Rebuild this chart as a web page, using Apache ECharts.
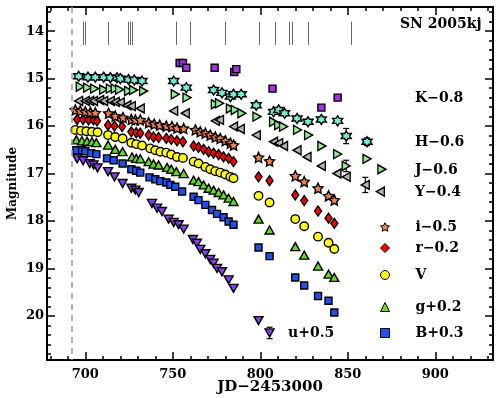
<!DOCTYPE html>
<html>
<head>
<meta charset="utf-8">
<script src="https://cdn.jsdelivr.net/npm/echarts@6/dist/echarts.min.js"></script>
<style>
  html, body { margin: 0; padding: 0; background: #fff; }
  #chart { width: 498px; height: 398px; }
</style>
</head>
<body>
<div id="chart"></div>
<script>
// Light curves of SN 2005kj, [JD-2453000, magnitude], offsets already applied
var uMag = [
  [695.3,16.69],[698.7,16.73],[702.5,16.79],[704.7,16.82],[707.0,16.88],
  [713.0,16.96],[716.7,17.07],[721.3,17.21],[726.3,17.31],[728.6,17.35],[730.5,17.40],
  [738.1,17.63],[741.0,17.73],[743.8,17.80],[747.6,17.96],[750.5,18.03],[753.3,18.08],[756.2,18.17],
  [761.5,18.39],[763.8,18.47],[765.7,18.60],[768.6,18.69],[771.4,18.81],[773.3,18.89],[775.3,19.00],
  [778.1,19.07],[781.9,19.24],[784.7,19.42],
  [799.0,20.10],[805.3,20.36]
];
var bMag = [
  [694.9,16.51],[698.1,16.51],[700.0,16.53],[703.3,16.57],[706.3,16.59],
  [712.4,16.68],[716.2,16.72],[721.3,16.79],[726.3,16.91],[729.1,16.94],[731.4,16.98],
  [736.7,17.08],[740.0,17.12],[742.9,17.16],[746.3,17.19],[748.6,17.24],[751.4,17.28],[755.3,17.38],
  [761.9,17.49],[764.7,17.56],[768.6,17.66],[772.4,17.77],[775.3,17.85],[779.0,17.92],[781.9,18.01],[784.7,18.08],
  [799.0,18.56],[805.3,18.74],[820.0,19.19],[825.1,19.36],[833.0,19.58],[839.0,19.68],[842.3,19.93]
];
var gMag = [
  [694.9,16.29],[698.1,16.31],[701.0,16.32],[703.8,16.33],[706.3,16.35],
  [713.0,16.40],[717.1,16.49],[721.3,16.54],[726.7,16.65],[729.1,16.68],[731.4,16.69],
  [736.2,16.75],[739.0,16.80],[741.9,16.82],[746.7,16.87],[749.1,16.91],[752.0,16.96],[756.2,17.00],
  [761.9,17.14],[764.7,17.17],[767.6,17.24],[770.5,17.31],[773.3,17.35],[776.2,17.40],[779.0,17.45],[781.9,17.52],[784.7,17.59],
  [799.0,17.96],[805.3,18.19],[820.0,18.54],[825.1,18.72],[833.0,18.95],[839.0,19.12],[842.3,19.19]
];
var vMag = [
  [694.3,16.08],[697.5,16.10],[700.6,16.11],[703.8,16.12],[707.0,16.13],
  [713.0,16.19],[717.1,16.23],[721.3,16.26],[726.3,16.35],[729.1,16.38],[732.4,16.41],
  [737.1,16.47],[740.0,16.51],[742.9,16.54],[746.3,16.56],[749.1,16.60],[752.4,16.65],[755.8,16.67],
  [761.9,16.75],[764.7,16.79],[768.6,16.86],[771.4,16.91],[774.3,16.95],[777.1,16.98],[780.0,17.02],[782.9,17.07],[784.7,17.10],
  [799.0,17.47],[805.3,17.61],[820.0,17.96],[825.1,18.11],[833.0,18.33],[839.0,18.46],[842.3,18.59]
];
var rMag = [
  [695.3,15.86],[698.7,15.86],[701.9,15.87],[704.7,15.87],[706.7,15.89],
  [713.0,15.98],[716.7,16.00],[721.0,16.01],[726.3,16.12],[729.1,16.14],[731.4,16.15],
  [736.2,16.19],[739.0,16.23],[741.9,16.24],[746.3,16.26],[749.1,16.28],[752.4,16.31],[755.8,16.33],
  [761.9,16.42],[764.7,16.45],[767.6,16.49],[770.5,16.54],[773.3,16.57],[776.2,16.60],[779.0,16.65],[781.9,16.68],[784.7,16.75],
  [799.0,17.07],[805.3,17.15],[820.0,17.45],[825.1,17.57],[833.0,17.79],[839.0,17.94],[842.3,18.05]
];
var iMag = [
  [694.3,15.66],[697.1,15.68],[700.0,15.70],[702.9,15.71],[705.7,15.72],
  [713.3,15.73],[717.1,15.79],[721.5,15.82],[726.3,15.86],[728.6,15.87],[731.4,15.87],
  [736.2,15.93],[739.4,15.96],[742.5,15.98],[746.3,16.00],[749.5,16.01],[752.4,16.04],[756.2,16.05],
  [762.9,16.08],[765.7,16.12],[768.6,16.15],[771.4,16.19],[774.3,16.23],[777.1,16.26],[780.0,16.31],[782.9,16.36],[784.7,16.40],
  [799.0,16.66],[805.3,16.74],[820.0,17.05],[825.1,17.17],[833.0,17.31],[839.0,17.47],[842.3,17.56]
];
var yMag = [
  [696.2,15.47],[700.0,15.47],[702.5,15.47],[704.7,15.47],[708.2,15.45],[710.5,15.47],[714.3,15.47],
  [717.1,15.49],[720.0,15.50],[723.8,15.56],[726.3,15.58],[731.4,15.63],
  [750.5,15.68],[757.1,15.73],[774.3,15.89],[776.7,15.87],[784.7,16.01],[788.6,16.06],
  [797.7,16.19],[807.6,16.33],[810.5,16.36],[813.3,16.42],[821.0,16.51],[826.7,16.65],[834.9,16.84],
  [843.8,17.00],[849.1,17.07],[860.0,17.24],[868.6,17.38]
];
var jMag = [
  [697.1,15.17],[701.3,15.19],[705.3,15.21],[710.5,15.23],[714.3,15.21],[717.1,15.21],[719.6,15.23],
  [724.7,15.26],[727.6,15.24],[733.3,15.26],
  [751.4,15.33],[758.1,15.40],[774.3,15.54],[776.7,15.52],[782.9,15.63],[785.7,15.66],[789.5,15.73],
  [798.1,15.80],[807.6,15.91],[810.5,15.98],[813.3,16.01],[821.3,16.08],[827.6,16.19],[835.2,16.42],
  [844.2,16.59],[849.1,16.84],[861.0,16.69],[869.5,16.91]
];
var hMag = [
  [696.2,14.95],[701.5,14.97],[705.7,14.97],[710.5,14.97],[714.3,14.98],[718.1,14.98],[720.0,15.00],
  [724.7,15.02],[728.0,15.03],[732.4,15.05],
  [750.5,15.05],[757.7,15.19],[773.3,15.24],[778.1,15.30],[782.9,15.38],[784.7,15.33],[789.1,15.33],
  [797.7,15.56],[807.6,15.70],[810.5,15.66],[813.9,15.73],[821.0,15.84],[827.3,15.91],[834.9,15.86],
  [844.2,15.89],[849.1,16.21],[861.0,16.33]
];
var kMag = [
  [753.9,14.67],[755.8,14.67],[757.7,14.77],[773.9,14.77],[785.1,14.86],[786.3,14.80],
  [807.0,15.21],[834.9,15.61],[844.2,15.40]
];

// error bars [JD, mag, sigma]
var errPoints = [
  [805.3,20.36,0.12],
  [849.1,16.21,0.16],[861.0,16.33,0.08],
  [849.1,16.84,0.12],
  [860.0,17.24,0.16]
];

// spectroscopic epochs (ticks along the top) and the dashed reference epoch
var spectraEpochs = [698.7,699.7,713.0,724.7,725.7,727.0,751.8,760.0,780.0,799.3,808.4,816.6,818.1,827.4,852.0];
var refEpoch = 692.1;

var xMajor = [700, 750, 800, 850, 900];
var yMajor = [14, 15, 16, 17, 18, 19, 20];

var X_MIN = 678.1, X_MAX = 933.0;
var Y_MIN = 13.49, Y_MAX = 20.93;
var FONT = '"DejaVu Serif", serif';

var xMinor = [];
for (var v = 680; v <= 930; v += 10) if (v % 50) xMinor.push(v);
var yMinor = [];
for (var k = 68; k <= 104; k++) if (k % 5) yMinor.push(k / 5);

var STAR5 = 'path://M0,-10L2.94,-4.05L9.51,-3.09L4.76,1.55L5.88,8.09L0,5L-5.88,8.09L-4.76,1.55L-9.51,-3.09L-2.94,-4.05Z';
var STAR6 = 'path://M0,-10L2.89,-5L8.66,-5L5.77,0L8.66,5L2.89,5L0,10L-2.89,5L-8.66,5L-5.77,0L-8.66,-5L-2.89,-5Z';

function band(name, data, symbol, size, rotate, color) {
  return {
    name: name,
    type: 'scatter',
    data: data,
    symbol: symbol,
    symbolSize: size,
    symbolRotate: rotate,
    itemStyle: { color: color, borderColor: '#000', borderWidth: 1.4, opacity: 1 },
    emphasis: { disabled: true },
    z: 3
  };
}

function xAxis(pos, ticks, len, main) {
  return {
    type: 'value', min: X_MIN, max: X_MAX, position: pos,
    axisLine: { show: main, onZero: false, lineStyle: { color: '#000', width: 2 } },
    axisTick: { show: true, inside: true, length: len, customValues: ticks,
      lineStyle: { color: '#000', width: 1.5 } },
    axisLabel: { show: main && pos === 'bottom', customValues: ticks, margin: 8,
      fontFamily: FONT, fontWeight: 'bold', fontSize: 13, color: '#000' },
    splitLine: { show: false }
  };
}

function yAxis(pos, ticks, len, main) {
  return {
    type: 'value', min: Y_MIN, max: Y_MAX, inverse: true, position: pos,
    axisLine: { show: main, onZero: false, lineStyle: { color: '#000', width: 2 } },
    axisTick: { show: true, inside: true, length: len, customValues: ticks,
      lineStyle: { color: '#000', width: 1.5 } },
    axisLabel: { show: main && pos === 'left', customValues: ticks, margin: 3,
      fontFamily: FONT, fontWeight: 'bold', fontSize: 13, color: '#000' },
    splitLine: { show: false }
  };
}

var xAxes = [xAxis('bottom', xMajor, 8, true), xAxis('bottom', xMinor, 4, false),
             xAxis('top', xMajor, 8, true), xAxis('top', xMinor, 4, false)];
xAxes[0].name = 'JD\u22122453000';
xAxes[0].nameLocation = 'middle';
xAxes[0].nameGap = 20;
xAxes[0].nameMoveOverlap = false;
xAxes[0].nameTextStyle = { fontFamily: FONT, fontWeight: 'bold', fontSize: 15, color: '#000' };

var yAxes = [yAxis('left', yMajor, 8, true), yAxis('left', yMinor, 4, false),
             yAxis('right', yMajor, 8, true), yAxis('right', yMinor, 4, false)];
yAxes[0].name = 'Magnitude';
yAxes[0].nameLocation = 'middle';
yAxes[0].nameGap = 28;
yAxes[0].nameMoveOverlap = false;
yAxes[0].nameTextStyle = { fontFamily: FONT, fontWeight: 'bold', fontSize: 12, color: '#000' };

var series = [
  band('u+0.5', uMag, 'triangle', [9, 8], 180, '#8a3ff0'),
  band('B+0.3', bMag, 'rect', 7, 0, '#2050f0'),
  band('g+0.2', gMag, 'triangle', [9, 8], 0, '#66dd11'),
  band('V', vMag, 'circle', 8.5, 0, '#ffff00'),
  band('r\u22120.2', rMag, 'diamond', [7, 10], 0, '#ff0000'),
  band('i\u22120.5', iMag, STAR5, 10, 0, '#f0844a'),
  band('Y\u22120.4', yMag, 'triangle', [9, 8], 90, '#b4b4b4'),
  band('J\u22120.6', jMag, 'triangle', [9, 8], -90, '#90ee90'),
  band('H\u22120.6', hMag, STAR6, 10, 0, '#70f0d8'),
  band('K\u22120.8', kMag, 'rect', 7, 0, '#a330e6')
];

series.push({
  name: 'err',
  type: 'custom',
  data: errPoints.map(function (p) { return [p[0], p[1] - p[2], p[1] + p[2]]; }),
  encode: { x: 0, y: [1, 2] },
  z: 2,
  renderItem: function (params, api) {
    var a = api.coord([api.value(0), api.value(1)]);
    var b = api.coord([api.value(0), api.value(2)]);
    var w = 3;
    var st = { stroke: '#000', lineWidth: 1.2 };
    return { type: 'group', children: [
      { type: 'line', shape: { x1: a[0], y1: a[1], x2: b[0], y2: b[1] }, style: st },
      { type: 'line', shape: { x1: a[0] - w, y1: a[1], x2: a[0] + w, y2: a[1] }, style: st },
      { type: 'line', shape: { x1: b[0] - w, y1: b[1], x2: b[0] + w, y2: b[1] }, style: st }
    ] };
  }
});

series.push({
  name: 'epochs',
  type: 'line',
  data: [],
  silent: true,
  markLine: {
    silent: true,
    symbol: ['none', 'none'],
    label: { show: false },
    animation: false,
    data: spectraEpochs.map(function (d) {
      return [{ coord: [d, 13.80], lineStyle: { color: '#666', width: 1, type: 'solid' } }, { coord: [d, 14.29] }];
    }).concat([{ xAxis: refEpoch, lineStyle: { color: '#999', width: 1.5, type: [6, 5] } }])
  }
});

function legendFor(name, cy) {
  return {
    data: [name], left: 380, top: cy - 7, padding: 0,
    itemWidth: 9, itemHeight: 9, selectedMode: false,
    itemStyle: { borderWidth: 1 },
    textStyle: { fontFamily: FONT, fontWeight: 'bold', fontSize: 14, color: '#000', padding: [0, 0, 0, 21] }
  };
}

function label(text, x, y) {
  return { type: 'text', x: x, y: y,
    style: { text: text, font: 'bold 14px ' + FONT, fill: '#000', verticalAlign: 'middle', textVerticalAlign: 'middle' } };
}

var chart = echarts.init(document.getElementById('chart'));
chart.setOption({
  animation: false,
  backgroundColor: '#fff',
  grid: { left: 47, right: 5, top: 7, bottom: 38, outerBoundsMode: 'none', containLabel: false },
  xAxis: xAxes,
  yAxis: yAxes,
  legend: [
    legendFor('i\u22120.5', 227),
    legendFor('r\u22120.2', 248),
    legendFor('V', 275),
    legendFor('g+0.2', 307),
    legendFor('B+0.3', 333)
  ],
  graphic: [
    label('SN 2005kj', 400, 24),
    label('K\u22120.8', 415, 98),
    label('H\u22120.6', 415, 142),
    label('J\u22120.6', 415, 170),
    label('Y\u22120.4', 415, 192),
    label('u+0.5', 288, 333)
  ],
  series: series
});
</script>
</body>
</html>
